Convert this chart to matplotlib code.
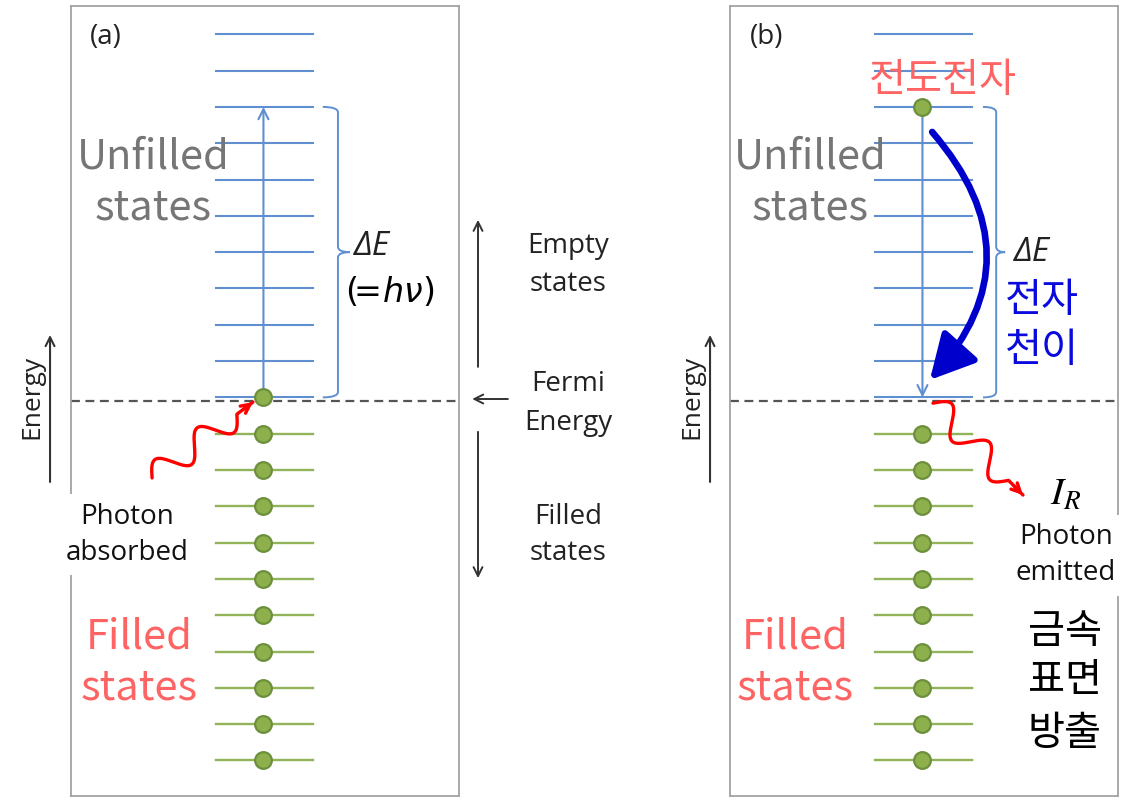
import numpy as np
import matplotlib.pyplot as plt
from matplotlib.patches import FancyArrowPatch, PathPatch
from matplotlib.path import Path

# energy levels in units of level spacing, Fermi energy at 0
empty_levels = [0.1, 1.1, 2.1, 3.1, 4.1, 5.1, 6.1, 7.1, 8.1, 9.1, 10.1]
filled_levels = [-0.9, -1.9, -2.9, -3.9, -4.9, -5.9, -6.9, -7.9, -8.9, -9.9]
fermi_level = 0.0
low_state = 0.1      # electron just above Fermi level
high_state = 8.1     # excited electron

BLUE = "#5f8fd0"
GREEN = "#93b35b"
DOT = "#8db04d"
DOT_EDGE = "#6c8f3c"
GRAY_TXT = "#767676"
RED_TXT = "#ff6464"
KR = ["Noto Sans CJK KR", "DejaVu Sans"]
UI = ["Open Sans", "DejaVu Sans"]

fig = plt.figure(figsize=(11.25, 8), dpi=100)
fig.patch.set_facecolor("white")


def make_panel(left):
    ax = fig.add_axes([left, 0.005, 0.3449, 0.9875])
    ax.set_xlim(0, 1)
    ax.set_ylim(-10.88, 10.88)
    ax.set_xticks([])
    ax.set_yticks([])
    for s in ax.spines.values():
        s.set_color("#a3a3a3")
        s.set_linewidth(1.3)
    ax.set_facecolor("white")
    return ax


def levels(ax, electrons):
    x0, x1, xc = 0.374, 0.624, 0.496
    for e in empty_levels:
        ax.plot([x0, x1], [e, e], color=BLUE, lw=1.5, zorder=2)
    for e in filled_levels:
        ax.plot([x0, x1], [e, e], color=GREEN, lw=1.7, zorder=2)
    ax.axhline(fermi_level, color="#555555", lw=1.6, dashes=(4, 2.5), zorder=2)
    ax.plot([xc] * len(electrons), electrons, "o", ms=12, mfc=DOT, mec=DOT_EDGE,
            mew=1.6, zorder=5, clip_on=False)


def brace(ax, u0, u1, utip, top, bot):
    mid = (top + bot) / 2
    r = 0.15
    verts = [(u0, top), (u1, top), (u1, top - r), (u1, mid + r), (u1, mid), (utip, mid),
             (utip, mid), (u1, mid), (u1, mid - r), (u1, bot + r), (u1, bot), (u0, bot)]
    codes = [Path.MOVETO, Path.CURVE3, Path.CURVE3, Path.LINETO, Path.CURVE3, Path.CURVE3,
             Path.MOVETO, Path.CURVE3, Path.CURVE3, Path.LINETO, Path.CURVE3, Path.CURVE3]
    ax.add_patch(PathPatch(Path(verts, codes), fill=False, ec=BLUE, lw=1.4, clip_on=False))


def wave(ax, start, end, amp=13, cycles=2, frac=0.84):
    trans = ax.transData
    p0 = trans.transform(start)
    p1 = trans.transform(end)
    d = p1 - p0
    L = np.hypot(*d)
    d = d / L
    n = np.array([-d[1], d[0]])
    t = np.linspace(0, 1, 400)
    off = np.where(t < frac, amp * np.sin(2 * np.pi * cycles * t / frac), 0)
    pts = p0 + np.outer(t * L, d) + np.outer(off, n)
    data = trans.inverted().transform(pts)
    ax.plot(data[:, 0], data[:, 1], color="#ff0000", lw=2.4, clip_on=False,
            solid_capstyle="round", zorder=4)
    ax.annotate("", xy=end, xytext=tuple(data[-40]),
                arrowprops=dict(arrowstyle="->", color="#ff0000", lw=2.4,
                                mutation_scale=16, shrinkA=0, shrinkB=0),
                annotation_clip=False, zorder=4)


def energy_axis(ax, u):
    ax.annotate("", xy=(u, 1.82), xytext=(u, -2.23),
                arrowprops=dict(arrowstyle="->", color="#333333", lw=1.5,
                                mutation_scale=16, shrinkA=0, shrinkB=0),
                annotation_clip=False)
    ax.text(u - 0.046, 0.11, "Energy", rotation=90, ha="center", va="center",
            fontsize=19, family=UI, color="#222222", clip_on=False)


# ---------------- panel (a) ----------------
ax = make_panel(0.0631)
levels(ax, [low_state] + filled_levels)
ax.annotate("", xy=(0.496, high_state), xytext=(0.496, low_state),
            arrowprops=dict(arrowstyle="->", color=BLUE, lw=1.5, mutation_scale=18,
                            shrinkA=0, shrinkB=0))
brace(ax, 0.649, 0.688, 0.719, high_state, low_state)
ax.text(0.09, 10.03, "(a)", ha="center", va="center", fontsize=20, family=UI, color="#222222")
ax.text(0.211, 6.72, "Unfilled", ha="center", va="center", fontsize=30, family=KR, color=GRAY_TXT)
ax.text(0.211, 5.32, "states", ha="center", va="center", fontsize=30, family=KR, color=GRAY_TXT)
ax.text(0.175, -6.5, "Filled", ha="center", va="center", fontsize=30, family=KR, color=RED_TXT)
ax.text(0.175, -7.9, "states", ha="center", va="center", fontsize=30, family=KR, color=RED_TXT)
ax.text(0.728, 4.25, "ΔE", ha="left", va="center", fontsize=24, family=UI, style="italic",
        color="#222222", clip_on=False)
ax.text(0.822, 3.0, r"$(\!\!=\!h\nu)$", ha="center", va="center", fontsize=24,
        math_fontfamily="dejavusans", color="#000000", clip_on=False)
ax.text(0.144, -3.68, "Photon\nabsorbed", ha="center", va="center", fontsize=20, family=UI,
        color="#111111", linespacing=1.38, clip_on=False, zorder=6,
        bbox=dict(facecolor="white", edgecolor="none", pad=6))
wave(ax, (0.209, -2.12), (0.469, -0.03))
energy_axis(ax, -0.054)

# middle legend column (drawn in panel (a) coordinates)
kw = dict(arrowstyle="->", color="#333333", lw=1.4, mutation_scale=16, shrinkA=0, shrinkB=0)
ax.annotate("", xy=(1.049, 4.99), xytext=(1.049, 0.94), arrowprops=kw, annotation_clip=False)
ax.annotate("", xy=(1.034, 0.055), xytext=(1.126, 0.055), arrowprops=kw, annotation_clip=False)
ax.annotate("", xy=(1.049, -4.88), xytext=(1.049, -0.85), arrowprops=kw, annotation_clip=False)
for y, s in [(4.27, "Empty"), (3.22, "states"), (0.47, "Fermi"), (-0.61, "Energy"),
             (-3.2, "Filled"), (-4.19, "states")]:
    ax.text(1.281, y, s, ha="center", va="center", fontsize=20, family=UI,
            color="#222222", clip_on=False)

# ---------------- panel (b) ----------------
bx = make_panel(0.6489)
levels(bx, [high_state] + filled_levels)
bx.annotate("", xy=(0.496, low_state), xytext=(0.496, high_state),
            arrowprops=dict(arrowstyle="->", color=BLUE, lw=1.5, mutation_scale=18,
                            shrinkA=0, shrinkB=0))
brace(bx, 0.652, 0.686, 0.709, high_state, low_state)
bx.text(0.095, 10.03, "(b)", ha="center", va="center", fontsize=20, family=UI, color="#222222")
bx.text(0.549, 8.84, "전도전자", ha="center", va="center", fontsize=29, family=KR, color=RED_TXT)
bx.text(0.206, 6.72, "Unfilled", ha="center", va="center", fontsize=30, family=KR, color=GRAY_TXT)
bx.text(0.206, 5.32, "states", ha="center", va="center", fontsize=30, family=KR, color=GRAY_TXT)
bx.text(0.168, -6.5, "Filled", ha="center", va="center", fontsize=30, family=KR, color=RED_TXT)
bx.text(0.168, -7.9, "states", ha="center", va="center", fontsize=30, family=KR, color=RED_TXT)
bx.text(0.733, 4.1, "ΔE", ha="left", va="center", fontsize=24, family=UI, style="italic",
        color="#222222", clip_on=False)
bx.text(0.804, 2.78, "전자", ha="center", va="center", fontsize=29, family=KR, color="#0a0adc")
bx.text(0.804, 1.40, "천이", ha="center", va="center", fontsize=29, family=KR, color="#0a0adc")
bx.add_patch(FancyArrowPatch((0.521, 7.41), (0.515, 0.58), connectionstyle="arc3,rad=-0.44",
                             arrowstyle="-|>,head_length=1.8,head_width=0.95", mutation_scale=15,
                             lw=4.8, color="#0000cc", shrinkA=0, shrinkB=0, zorder=4))
wave(bx, (0.523, -0.06), (0.755, -2.59))
bx.text(0.866, -2.55, r"$I_R$", ha="center", va="center", fontsize=28,
        math_fontfamily="stix", color="#000000", clip_on=False)
bx.text(0.866, -4.25, "Photon\nemitted", ha="center", va="center", fontsize=20, family=UI,
        color="#111111", linespacing=1.38, clip_on=False, zorder=6,
        bbox=dict(facecolor="white", edgecolor="none", pad=6))
for y, s in [(-6.36, "금속"), (-7.69, "표면"), (-9.15, "방출")]:
    bx.text(0.863, y, s, ha="center", va="center", fontsize=29, family=KR, color="#000000")
energy_axis(bx, -0.0515)

fig.savefig("out.png", dpi=100, facecolor="white")
